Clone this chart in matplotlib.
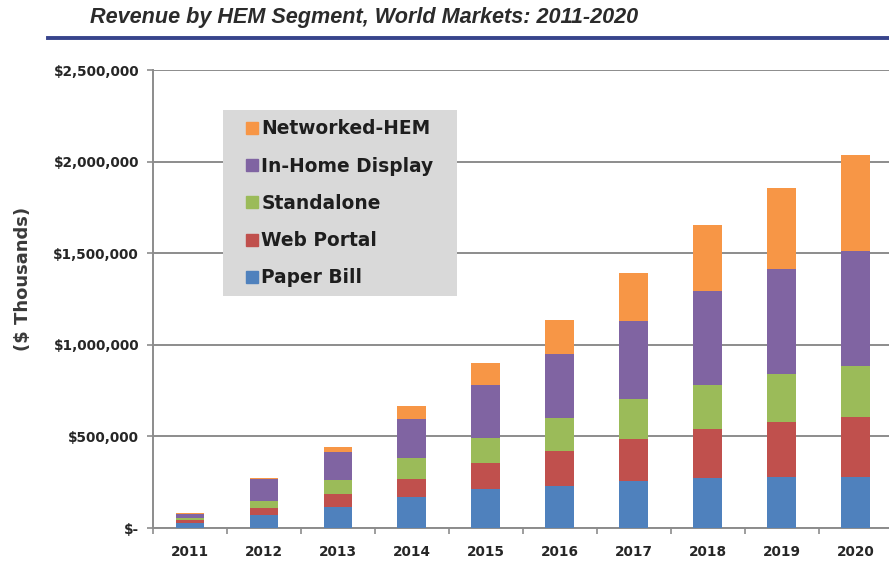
"""Stacked revenue bars by HEM segment, 2011-2020."""

import numpy as np
import matplotlib
matplotlib.use("Agg")
import matplotlib.pyplot as plt
from matplotlib.ticker import FuncFormatter, FixedLocator
from matplotlib.lines import Line2D
from matplotlib.patches import Rectangle

years = ["2011", "2012", "2013", "2014", "2015", "2016", "2017", "2018", "2019", "2020"]

# $ thousands per segment (stacked bottom to top)
paper_bill = [25, 71, 115, 169, 213, 229, 257, 273, 278, 280]
web_portal = [20, 38, 71, 98, 142, 191, 229, 267, 301, 326]
standalone = [12, 38, 76, 115, 136, 180, 218, 241, 262, 278]
in_home_display = [18, 120, 153, 213, 289, 350, 426, 513, 573, 628]
networked_hem = [8, 4, 27, 71, 120, 185, 262, 360, 444, 524]

segments = [
    ("Paper Bill", paper_bill, "#4F81BD"),
    ("Web Portal", web_portal, "#C0504D"),
    ("Standalone", standalone, "#9BBB59"),
    ("In-Home Display", in_home_display, "#8064A2"),
    ("Networked-HEM", networked_hem, "#F79646"),
]

GRID = "#8C8C8C"
TEXT = "#262626"
W, H = 889, 578

fig = plt.figure(figsize=(W / 100, H / 100), dpi=100)
ax = fig.add_axes([153 / W, 50 / H, 1 - 153 / W, 458 / H])

x = np.arange(len(years))
bottom = np.zeros(len(years))
for name, vals, color in segments:
    vals = np.array(vals, dtype=float) * 1000
    ax.bar(x, vals, width=0.39, bottom=bottom, color=color, label=name, zorder=3)
    bottom += vals

ax.set_ylim(0, 2_500_000)
ax.set_xlim(-0.5, 9.45)
ax.yaxis.set_major_locator(FixedLocator(np.arange(0, 2_500_001, 500_000)))
ax.yaxis.set_major_formatter(
    FuncFormatter(lambda v, p: "$-" if v == 0 else f"${v:,.0f}"))
ax.grid(axis="y", color=GRID, linewidth=1.4, zorder=0)
ax.set_axisbelow(True)

ax.set_xticks(x)
ax.set_xticklabels(years)
ax.xaxis.set_minor_locator(FixedLocator(np.arange(-0.5, 10, 1.0)))
ax.tick_params(axis="x", which="major", length=0, pad=12)
ax.tick_params(axis="x", which="minor", length=4, color=GRID, width=1.2)
ax.tick_params(axis="y", length=4, color=GRID, width=1.2, pad=6)
for lbl in ax.get_xticklabels() + ax.get_yticklabels():
    lbl.set_fontfamily("DejaVu Sans")
    lbl.set_fontweight("bold")
    lbl.set_fontsize(9.8)
    lbl.set_color(TEXT)

for side in ("top", "right"):
    ax.spines[side].set_visible(False)
for side in ("left", "bottom"):
    ax.spines[side].set_color(GRID)
    ax.spines[side].set_linewidth(1.4)

fig.text(23 / W, 1 - 279 / H, "($ Thousands)", rotation=90, ha="center",
         va="center", fontsize=13, fontweight="bold", color="#3a3a3a",
         family="DejaVu Sans")

# grey legend panel, drawn separately so it can be wider than the entries
ax.add_patch(Rectangle((223 / W, 1 - 296 / H), (457 - 223) / W, (296 - 110) / H,
                       transform=fig.transFigure, facecolor="#D9D9D9",
                       edgecolor="none", zorder=4, clip_on=False))
handles = [Line2D([], [], marker="s", linestyle="", markersize=8,
                  markerfacecolor=c, markeredgecolor=c) for _, _, c in segments][::-1]
labels = [n for n, _, _ in segments][::-1]
leg = ax.legend(handles, labels, loc="upper left",
                bbox_to_anchor=((237 - 153) / 736, 1 - (110 - 70) / 458),
                frameon=False, handlelength=0.6, handletextpad=0.2,
                labelspacing=0.98, borderpad=0.5, borderaxespad=0,
                prop={"family": "DejaVu Sans", "weight": "bold", "size": 13.4})
for t in leg.get_texts():
    t.set_color("#1e1e1e")
leg.set_zorder(5)

fig.text(90 / W, 1 - 17 / H, "Revenue by HEM Segment, World Markets: 2011-2020",
         ha="left", va="center", fontsize=15.6, fontweight="bold",
         fontstyle="italic", color="#2b2b2b", family="Liberation Sans")
fig.add_artist(Line2D([48 / W, 1.0], [1 - 38 / H] * 2, color="#38448C",
                      linewidth=2.8))

fig.savefig("out.png", dpi=100)
